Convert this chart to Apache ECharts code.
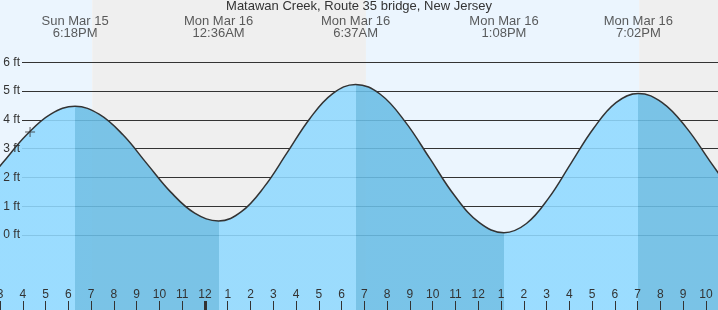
<!DOCTYPE html>
<html><head><meta charset="utf-8">
<script src="https://cdn.jsdelivr.net/npm/echarts@6/dist/echarts.min.js"></script>
<style>html,body{margin:0;padding:0;background:#fff}#c{width:718px;height:310px}</style>
</head><body><div id="c"></div>
<script>
const titleText = 'Matawan Creek, Route 35 bridge, New Jersey';
// time axis: hours since Sun Mar 15 00:00
const tideHours = [14.03,15.1,16.17,17.23,18.3,19.35,20.4,21.45,22.5,23.55,24.6,25.6,26.61,27.61,28.61,29.61,30.617,31.70,32.79,33.875,34.96,36.05,37.133,38.12,39.10,40.08,41.07,42.05,43.033,44.08,45.13,46.18,47.23];
const tideFeet  = [1.49,2.49,3.48,4.20,4.47,4.20,3.48,2.48,1.49,0.76,0.49,0.81,1.68,2.86,4.05,4.91,5.23,4.89,3.94,2.66,1.37,0.43,0.08,0.40,1.29,2.50,3.71,4.60,4.92,4.60,3.74,2.56,1.38];
const extremeHours = [18.3, 24.6, 30.617, 37.133, 43.033];
const extremeFeet  = [4.47, 0.49, 5.23, 0.08, 4.92];
const extremeDays  = ['Sun Mar 15','Mon Mar 16','Mon Mar 16','Mon Mar 16','Mon Mar 16'];
const extremeTimes = ['6:18PM','12:36AM','6:37AM','1:08PM','7:02PM'];
const dayNightStart = [15, 19.05, 31.07, 43.07];
const dayNightEnd   = [19.05, 31.07, 43.07, 46.53];
const dayNightIsDay = [1, 0, 1, 0];
const nowHour = 16.32, nowFeet = 3.58;
const hourTicks  = [15,16,17,18,19,20,21,22,23,24,25,26,27,28,29,30,31,32,33,34,35,36,37,38,39,40,41,42,43,44,45,46];
const hourLabels = ['3','4','5','6','7','8','9','10','11','12','1','2','3','4','5','6','7','8','9','10','11','12','1','2','3','4','5','6','7','8','9','10'];
const midnightTicks = [24];
const feetTicks = [0,1,2,3,4,5,6];

const X_MIN = 15, X_MAX = 46.53, Y_MIN = -2.6057, Y_MAX = 8.1645;
const FONT = 'Liberation Sans, Arial, sans-serif';
const TXT = '#333';
const LIGHT = '#90d9ff', DARK = '#6abde5';
const DAY = '#ebf5fe', NIGHT = '#efefef';

const tideData = tideHours.map((h,i)=>[h, tideFeet[i]]);
const pieces = [];
let prev = -Infinity;
extremeHours.forEach((h,i)=>{
  pieces.push({gte: prev, lt: h, color: (i % 2 === 0) ? LIGHT : DARK});
  prev = h;
});
pieces.push({gte: prev, lt: Infinity, color: (extremeHours.length % 2 === 0) ? LIGHT : DARK});

const chart = echarts.init(document.getElementById('c'), null, {renderer:'canvas'});
chart.setOption({
  animation: false,
  title: {text: titleText, left: 'center', top: 0, padding: 0, textStyle: {fontFamily: FONT, fontSize: 13, fontWeight: 'normal', color: TXT}},
  grid: [
    {left: 0, right: 0, top: 0, bottom: 0, containLabel: false, outerBoundsMode: 'none'},
    {left: 22, right: 0, top: 62.3, bottom: 75, containLabel: false, outerBoundsMode: 'none'}
  ],
  xAxis: [
    {gridIndex: 0, type: 'value', position: 'bottom', min: X_MIN, max: X_MAX, interval: 1,
     axisLine: {show: false, onZero: false}, splitLine: {show: false},
     axisTick: {show: true, inside: true, length: 9, lineStyle: {color: TXT, width: 1}},
     axisLabel: {show: true, inside: true, margin: 9, fontFamily: FONT, fontSize: 12, color: TXT,
       formatter: v => { const i = hourTicks.indexOf(Math.round(v)); return i >= 0 ? hourLabels[i] : ''; }},
     z: 5},
    {gridIndex: 0, type: 'value', position: 'bottom', min: X_MIN, max: X_MAX,
     axisLine: {show: false, onZero: false}, splitLine: {show: false}, axisLabel: {show: false},
     axisTick: {show: true, inside: true, length: 9, customValues: midnightTicks, lineStyle: {color: TXT, width: 3}},
     z: 5},
    {gridIndex: 1, type: 'value', min: 0, max: 1, show: false}
  ],
  yAxis: [
    {gridIndex: 0, type: 'value', min: Y_MIN, max: Y_MAX, show: false},
    {gridIndex: 1, type: 'value', position: 'left', min: 0, max: 6, interval: 1, z: 1,
     axisLine: {show: false}, axisTick: {show: false}, axisLabel: {show: false},
     splitLine: {show: true, lineStyle: {color: '#333', width: 1}}},
    {gridIndex: 1, type: 'value', position: 'left', offset: 0, min: 0, max: 6, interval: 1, z: 6,
     axisLine: {show: false, onZero: false}, axisTick: {show: false}, splitLine: {show: false},
     axisLabel: {show: true, margin: 2, fontFamily: FONT, fontSize: 12, color: TXT,
       formatter: v => feetTicks.indexOf(v) >= 0 ? v + ' ft' : ''}}
  ],
  visualMap: {type: 'piecewise', show: false, dimension: 0, seriesIndex: 1, pieces: pieces},
  series: [
    {type: 'custom', xAxisIndex: 0, yAxisIndex: 0, z: 0, silent: true,
     data: dayNightStart.map((s,i)=>[s, dayNightEnd[i], dayNightIsDay[i]]),
     renderItem: (params, api) => {
       const p1 = api.coord([api.value(0), Y_MAX]);
       const p2 = api.coord([api.value(1), Y_MIN]);
       return {type: 'rect', shape: {x: p1[0], y: p1[1], width: p2[0]-p1[0], height: p2[1]-p1[1]},
               style: {fill: api.value(2) ? DAY : NIGHT}};
     }},
    {type: 'line', xAxisIndex: 0, yAxisIndex: 0, z: 2, silent: true, data: tideData,
     smooth: 0.4, symbol: 'none', lineStyle: {width: 0, opacity: 0},
     areaStyle: {origin: 'start', opacity: 0.88}},
    {type: 'line', xAxisIndex: 0, yAxisIndex: 0, z: 3, silent: true, data: tideData,
     smooth: 0.4, symbol: 'none', lineStyle: {color: '#333', width: 1.5}},
    {type: 'scatter', xAxisIndex: 0, yAxisIndex: 0, z: 4, silent: true,
     data: extremeHours.map((h,i)=>[h, 7.225, i]), symbolSize: 0,
     label: {show: true, position: 'inside', fontFamily: FONT, fontSize: 13, lineHeight: 12, color: TXT,
       formatter: p => extremeDays[p.value[2]] + '\n' + extremeTimes[p.value[2]]}},
    {type: 'scatter', xAxisIndex: 0, yAxisIndex: 0, z: 4, silent: true,
     data: [[nowHour, nowFeet]], symbol: 'path://M4.5,0h1v10h-1zM0,4.5h10v1h-10z', symbolSize: 10,
     itemStyle: {color: '#333'}}
  ]
});
</script></body></html>
